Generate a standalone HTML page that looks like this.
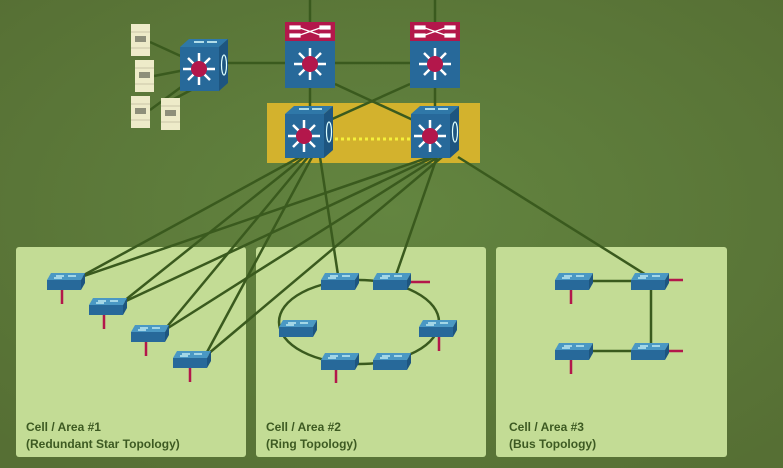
<!DOCTYPE html>
<html><head><meta charset="utf-8"><style>
html,body{margin:0;padding:0;background:#5e7f3b;}
svg{display:block;}
text{font-family:"Liberation Sans",sans-serif;font-weight:bold;font-size:12px;fill:#3d5a22;}
</style></head><body>
<svg width="783" height="468" viewBox="0 0 783 468" xmlns="http://www.w3.org/2000/svg">
<defs>
<radialGradient id="bg" cx="50%" cy="45%" r="70%">
<stop offset="0" stop-color="#638540"/><stop offset="1" stop-color="#566f34"/>
</radialGradient>
<g id="sw">
<polygon points="4,0 38,0 34,7 0,7" fill="#4a98c4"/>
<rect x="0" y="7" width="34" height="10" fill="#27699a"/>
<polygon points="34,7 38,0 38,10 34,17" fill="#1d5580"/>
<line x1="9" y1="3" x2="17" y2="3" stroke="#dff" stroke-width="1.2"/>
<line x1="21" y1="3" x2="29" y2="3" stroke="#dff" stroke-width="1.2"/>
<line x1="7" y1="5" x2="15" y2="5" stroke="#dff" stroke-width="1.2"/>
</g>
<g id="star">
<g stroke="#fff" stroke-width="2.5">
<line x1="-16" y1="0" x2="16" y2="0"/><line x1="0" y1="-16" x2="0" y2="16"/>
<line x1="-11" y1="-11" x2="11" y2="11"/><line x1="-11" y1="11" x2="11" y2="-11"/>
</g>
<circle r="8" fill="#b3174b"/>
</g>
<g id="cube">
<polygon points="0,0 9,-8 48,-8 39,0" fill="#2f78a8"/>
<polygon points="39,0 48,-8 48,36 39,44" fill="#1d5580"/>
<rect x="0" y="0" width="39" height="44" fill="#27699a"/>
<ellipse cx="44" cy="18" rx="2.5" ry="10" fill="none" stroke="#dff" stroke-width="1.2"/>
<line x1="14" y1="-5" x2="24" y2="-5" stroke="#dff" stroke-width="1.5"/>
<line x1="27" y1="-5" x2="37" y2="-5" stroke="#dff" stroke-width="1.5"/>
<use href="#star" x="19" y="22"/>
</g>
<g id="core">
<rect x="0" y="0" width="50" height="19" fill="#b3174b"/>
<g stroke="#fff" stroke-width="1.2" fill="#fff"><rect x="5" y="4" width="10" height="3"/><rect x="35" y="4" width="10" height="3"/><rect x="5" y="12" width="10" height="3"/><rect x="35" y="12" width="10" height="3"/><line x1="15" y1="6" x2="35" y2="13"/><line x1="15" y1="13" x2="35" y2="6"/></g>
<rect x="0" y="19" width="50" height="47" fill="#27699a"/>
<use href="#star" x="25" y="42"/>
</g>
<g id="srv"><rect width="19" height="32" fill="#eeebc9"/><rect x="4" y="12" width="11" height="6" fill="#8e8f7a"/><line x1="0" y1="8" x2="19" y2="8" stroke="#c9c6a6"/><line x1="0" y1="24" x2="19" y2="24" stroke="#c9c6a6"/></g>
</defs>
<rect width="783" height="468" fill="url(#bg)"/>

<!-- panels -->
<rect x="16" y="247" width="230" height="210" rx="3" fill="#c3dc95"/>
<rect x="256" y="247" width="230" height="210" rx="3" fill="#c3dc95"/>
<rect x="496" y="247" width="231" height="210" rx="3" fill="#c3dc95"/>

<text x="26" y="431">Cell / Area #1</text><text x="26" y="448">(Redundant Star Topology)</text>
<text x="266" y="431">Cell / Area #2</text><text x="266" y="448">(Ring Topology)</text>
<text x="509" y="431">Cell / Area #3</text><text x="509" y="448">(Bus Topology)</text>

<!-- yellow box -->
<rect x="267" y="103" width="213" height="60" fill="#d3b22d"/>

<g stroke="#3a5a1e" stroke-width="2.5" fill="none">
<line x1="310" y1="0" x2="310" y2="22"/><line x1="435" y1="0" x2="435" y2="22"/>
<line x1="220" y1="63" x2="410" y2="63"/>
<line x1="310" y1="88" x2="310" y2="110"/><line x1="435" y1="88" x2="435" y2="110"/>
<line x1="335" y1="84" x2="413" y2="120"/><line x1="410" y1="84" x2="330" y2="120"/>
<line x1="150" y1="42" x2="185" y2="58"/><line x1="154" y1="76" x2="185" y2="70"/><line x1="150" y1="110" x2="188" y2="82"/><line x1="172" y1="100" x2="195" y2="88"/>
<line x1="300" y1="157" x2="82" y2="276"/><line x1="430" y1="157" x2="84" y2="276"/>
<line x1="304" y1="157" x2="124" y2="301"/><line x1="434" y1="157" x2="126" y2="301"/>
<line x1="308" y1="157" x2="166" y2="328"/><line x1="438" y1="157" x2="168" y2="328"/>
<line x1="312" y1="157" x2="206" y2="354"/><line x1="442" y1="157" x2="208" y2="354"/>
<line x1="320" y1="157" x2="338" y2="275"/><line x1="437" y1="157" x2="396" y2="275"/>
<line x1="458" y1="157" x2="651" y2="278"/>
<ellipse cx="359" cy="322" rx="80" ry="42"/>
<line x1="575" y1="281" x2="651" y2="281"/><line x1="575" y1="351" x2="651" y2="351"/><line x1="651" y1="281" x2="651" y2="351"/>
</g>
<line x1="305" y1="139" x2="430" y2="139" stroke="#f5f03a" stroke-width="3" stroke-dasharray="3,3"/>

<g stroke="#b3174b" stroke-width="2.5">
<line x1="62" y1="290" x2="62" y2="304"/><line x1="104" y1="315" x2="104" y2="329"/>
<line x1="146" y1="342" x2="146" y2="356"/><line x1="190" y1="368" x2="190" y2="382"/>
<line x1="409" y1="282" x2="430" y2="282"/><line x1="439" y1="337" x2="439" y2="351"/><line x1="336" y1="370" x2="336" y2="383"/>
<line x1="571" y1="290" x2="571" y2="304"/><line x1="571" y1="360" x2="571" y2="374"/>
<line x1="667" y1="280" x2="683" y2="280"/><line x1="667" y1="351" x2="683" y2="351"/>
</g>

<use href="#sw" x="47" y="273"/><use href="#sw" x="89" y="298"/><use href="#sw" x="131" y="325"/><use href="#sw" x="173" y="351"/>
<use href="#sw" x="321" y="273"/><use href="#sw" x="373" y="273"/><use href="#sw" x="279" y="320"/><use href="#sw" x="419" y="320"/><use href="#sw" x="321" y="353"/><use href="#sw" x="373" y="353"/>
<use href="#sw" x="555" y="273"/><use href="#sw" x="631" y="273"/><use href="#sw" x="555" y="343"/><use href="#sw" x="631" y="343"/>

<use href="#cube" x="180" y="47"/>
<use href="#cube" x="285" y="114"/><use href="#cube" x="411" y="114"/>
<use href="#core" x="285" y="22"/><use href="#core" x="410" y="22"/>

<use href="#srv" x="131" y="24"/><use href="#srv" x="135" y="60"/><use href="#srv" x="131" y="96"/><use href="#srv" x="161" y="98"/>
</svg>
</body></html>
